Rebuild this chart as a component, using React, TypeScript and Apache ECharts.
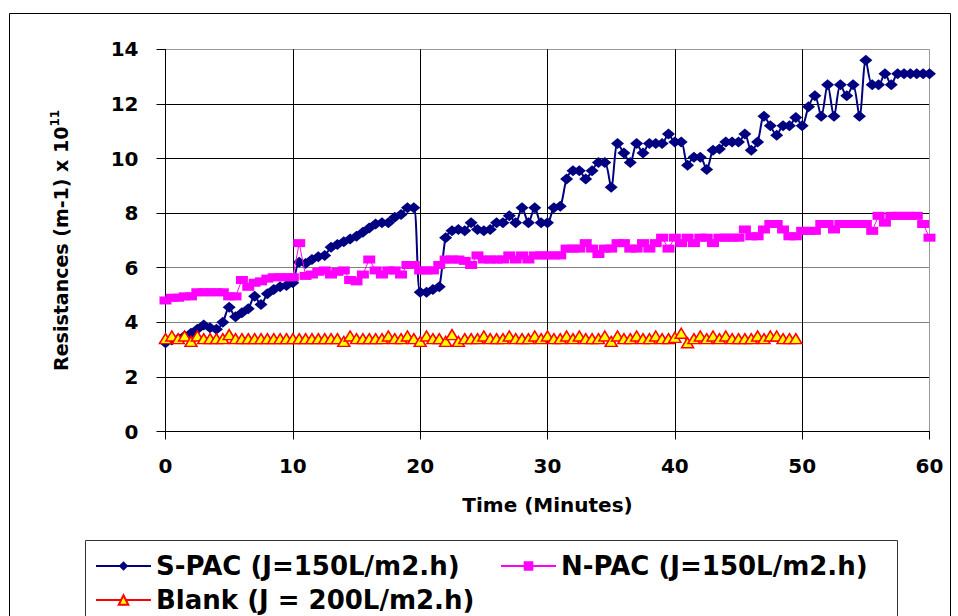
import React, { useEffect, useRef } from "react";
import * as echarts from "echarts";

// Sampling interval of the measurements (minutes)
const SAMPLE_STEP = 0.5;

const seriesNames = [
  "S-PAC (J=150L/m2.h)",
  "N-PAC (J=150L/m2.h)",
  "Blank (J = 200L/m2.h)",
];

// S-PAC resistances, every 0.5 min from 0 to 60
const sPac = [
  3.25, 3.35, 3.4, 3.5, 3.6, 3.75, 3.9, 3.8, 3.75, 4.0,
  4.55, 4.2, 4.35, 4.5, 4.95, 4.65, 5.05, 5.2, 5.3, 5.35,
  5.45, 6.2, 6.15, 6.3, 6.4, 6.45, 6.75, 6.85, 6.95, 7.05,
  7.15, 7.3, 7.45, 7.6, 7.65, 7.65, 7.85, 7.95, 8.2, 8.2,
  5.1, 5.1, 5.2, 5.3, 7.1, 7.35, 7.4, 7.35, 7.65, 7.4,
  7.35, 7.4, 7.65, 7.65, 7.9, 7.65, 8.2, 7.65, 8.2, 7.65,
  7.65, 8.2, 8.25, 9.25, 9.55, 9.55, 9.25, 9.55, 9.85, 9.85,
  8.95, 10.55, 10.2, 9.85, 10.55, 10.2, 10.55, 10.55, 10.55, 10.9,
  10.6, 10.6, 9.75, 10.05, 10.05, 9.6, 10.3, 10.35, 10.6, 10.6,
  10.6, 10.9, 10.3, 10.6, 11.55, 11.2, 10.85, 11.2, 11.2, 11.5,
  11.2, 11.9, 12.3, 11.55, 12.7, 11.55, 12.7, 12.3, 12.7, 11.55,
  13.6, 12.7, 12.7, 13.1, 12.7, 13.1, 13.1, 13.1, 13.1, 13.1,
  13.1,
];

// N-PAC resistances, every 0.5 min from 0 to 60
const nPac = [
  4.8, 4.9, 4.9, 4.95, 4.95, 5.1, 5.1, 5.1, 5.1, 5.1,
  4.95, 4.95, 5.55, 5.3, 5.45, 5.5, 5.6, 5.65, 5.65, 5.65,
  5.65, 6.9, 5.7, 5.75, 5.85, 5.9, 5.75, 5.85, 5.9, 5.55,
  5.5, 5.75, 6.3, 5.9, 5.75, 5.9, 5.9, 5.75, 6.1, 6.1,
  5.9, 5.9, 5.9, 6.1, 6.3, 6.3, 6.3, 6.25, 6.1, 6.45,
  6.3, 6.3, 6.3, 6.3, 6.45, 6.3, 6.45, 6.3, 6.45, 6.45,
  6.45, 6.45, 6.45, 6.7, 6.7, 6.7, 6.9, 6.7, 6.5, 6.7,
  6.7, 6.9, 6.9, 6.7, 6.7, 6.9, 6.7, 6.9, 7.1, 6.7,
  7.1, 6.9, 7.1, 6.9, 7.1, 7.1, 6.9, 7.1, 7.1, 7.1,
  7.1, 7.4, 7.15, 7.15, 7.4, 7.6, 7.6, 7.4, 7.15, 7.15,
  7.35, 7.35, 7.35, 7.6, 7.6, 7.4, 7.6, 7.6, 7.6, 7.6,
  7.6, 7.35, 7.9, 7.65, 7.9, 7.9, 7.9, 7.9, 7.9, 7.6,
  7.1,
];

// Blank resistances, every 0.5 min from 0 to 49.5
const blank = [
  3.4, 3.5, 3.4, 3.5, 3.3, 3.5, 3.4, 3.4, 3.4, 3.4,
  3.55, 3.4, 3.4, 3.4, 3.4, 3.4, 3.4, 3.4, 3.4, 3.4,
  3.4, 3.4, 3.4, 3.4, 3.4, 3.4, 3.4, 3.4, 3.3, 3.5,
  3.4, 3.4, 3.4, 3.4, 3.4, 3.5, 3.4, 3.4, 3.5, 3.4,
  3.3, 3.5, 3.4, 3.4, 3.3, 3.55, 3.3, 3.4, 3.4, 3.4,
  3.5, 3.4, 3.4, 3.4, 3.5, 3.4, 3.4, 3.4, 3.5, 3.4,
  3.5, 3.4, 3.4, 3.5, 3.4, 3.5, 3.4, 3.4, 3.4, 3.5,
  3.3, 3.5, 3.4, 3.4, 3.5, 3.4, 3.4, 3.5, 3.4, 3.4,
  3.45, 3.6, 3.25, 3.4, 3.5, 3.4, 3.5, 3.4, 3.5, 3.4,
  3.4, 3.4, 3.4, 3.5, 3.4, 3.5, 3.5, 3.4, 3.4, 3.4,
];

const xTicks = { min: 0, max: 60, interval: 10 };
const yTicks = { min: 0, max: 14, interval: 2 };

const xTitle = "Time (Minutes)";
const yTitle = "Resistances (m-1) x 10";
const yTitleExp = "11";

const toPairs = (vals: number[]) => vals.map((v, i) => [i * SAMPLE_STEP, v]);

const FONT = "DejaVu Sans";

export default function App() {
  const ref = useRef<HTMLDivElement>(null);
  useEffect(() => {
    if (!ref.current) return;
    const chart = echarts.init(ref.current, null, { renderer: "svg" });
    const legendText = {
      fontFamily: FONT,
      fontWeight: "bold" as const,
      fontSize: 26,
      color: "#000",
    };
    const legendCommon = {
      itemWidth: 55,
      itemHeight: 12,
      padding: 0,
      textStyle: legendText,
    };
    chart.setOption({
      animation: false,
      backgroundColor: "#fff",
      grid: { left: 165.5, top: 49.3, right: 28.5, bottom: 184.5 },
      xAxis: {
        type: "value",
        min: xTicks.min,
        max: xTicks.max,
        interval: xTicks.interval,
        name: xTitle,
        nameLocation: "middle",
        nameGap: 63,
        nameTextStyle: { fontFamily: FONT, fontWeight: "bold", fontSize: 20, color: "#000" },
        axisLine: { show: true, onZero: false, lineStyle: { color: "#000", width: 1 } },
        axisTick: { show: true, inside: false, length: 8, lineStyle: { color: "#000", width: 1 } },
        axisLabel: { margin: 24, fontFamily: FONT, fontWeight: "bold", fontSize: 20, color: "#000" },
        splitLine: {
          show: true,
          lineStyle: {
            color: ["#000", "#000", "#000", "#000", "#000", "#000", "#9a9a9a"],
            width: 1,
          },
        },
      },
      yAxis: {
        type: "value",
        min: yTicks.min,
        max: yTicks.max,
        interval: yTicks.interval,
        name: yTitle + "{sup|" + yTitleExp + "}",
        nameLocation: "middle",
        nameRotate: 90,
        nameGap: 93,
        nameTextStyle: {
          fontFamily: FONT,
          fontWeight: "bold",
          fontSize: 19,
          color: "#000",
          rich: {
            sup: {
              fontFamily: FONT,
              fontWeight: "bold",
              fontSize: 12,
              color: "#000",
              verticalAlign: "top",
              lineHeight: 24,
            },
          },
        },
        axisLine: { show: true, lineStyle: { color: "#000", width: 1 } },
        axisTick: { show: true, inside: false, length: 9, lineStyle: { color: "#000", width: 1 } },
        axisLabel: { margin: 27, fontFamily: FONT, fontWeight: "bold", fontSize: 20, color: "#000" },
        splitLine: {
          show: true,
          lineStyle: {
            color: ["#000", "#000", "#808080", "#808080", "#000", "#000", "#000", "#9a9a9a"],
            width: 1,
          },
        },
      },
      legend: [
        { ...legendCommon, data: [seriesNames[0]], left: 95, top: 553 },
        { ...legendCommon, data: [seriesNames[1]], left: 500, top: 553 },
        { ...legendCommon, data: [seriesNames[2]], left: 95, top: 587 },
      ],
      graphic: [
        {
          type: "rect",
          silent: true,
          shape: { x: 9.5, y: 13.5, width: 941, height: 800 },
          style: { fill: "none", stroke: "#000", lineWidth: 1 },
          z: -10,
        },
        {
          type: "rect",
          silent: true,
          shape: { x: 85.5, y: 540.5, width: 812, height: 200 },
          style: { fill: "none", stroke: "#333", lineWidth: 1 },
        },
      ],
      series: [
        {
          name: seriesNames[0],
          type: "line",
          data: toPairs(sPac),
          smooth: 0.3,
          symbol: "diamond",
          symbolSize: [13, 11],
          itemStyle: { color: "#000080" },
          lineStyle: { color: "#000080", width: 2 },
          z: 2,
        },
        {
          name: seriesNames[1],
          type: "line",
          data: toPairs(nPac),
          symbol: "rect",
          symbolSize: [12, 8],
          itemStyle: { color: "#ff00ff" },
          lineStyle: { color: "#ff00ff", width: 1 },
          z: 3,
        },
        {
          name: seriesNames[2],
          type: "line",
          data: toPairs(blank),
          symbol: "triangle",
          symbolSize: [12, 10],
          itemStyle: { color: "#ffff00", borderColor: "#ff0000", borderWidth: 1.5 },
          lineStyle: { color: "#ff0000", width: 1 },
          z: 4,
        },
      ],
    });
    return () => chart.dispose();
  }, []);
  return (
    <div
      ref={ref}
      style={{ position: "absolute", left: 0, top: 0, width: 958, height: 616 }}
    />
  );
}
